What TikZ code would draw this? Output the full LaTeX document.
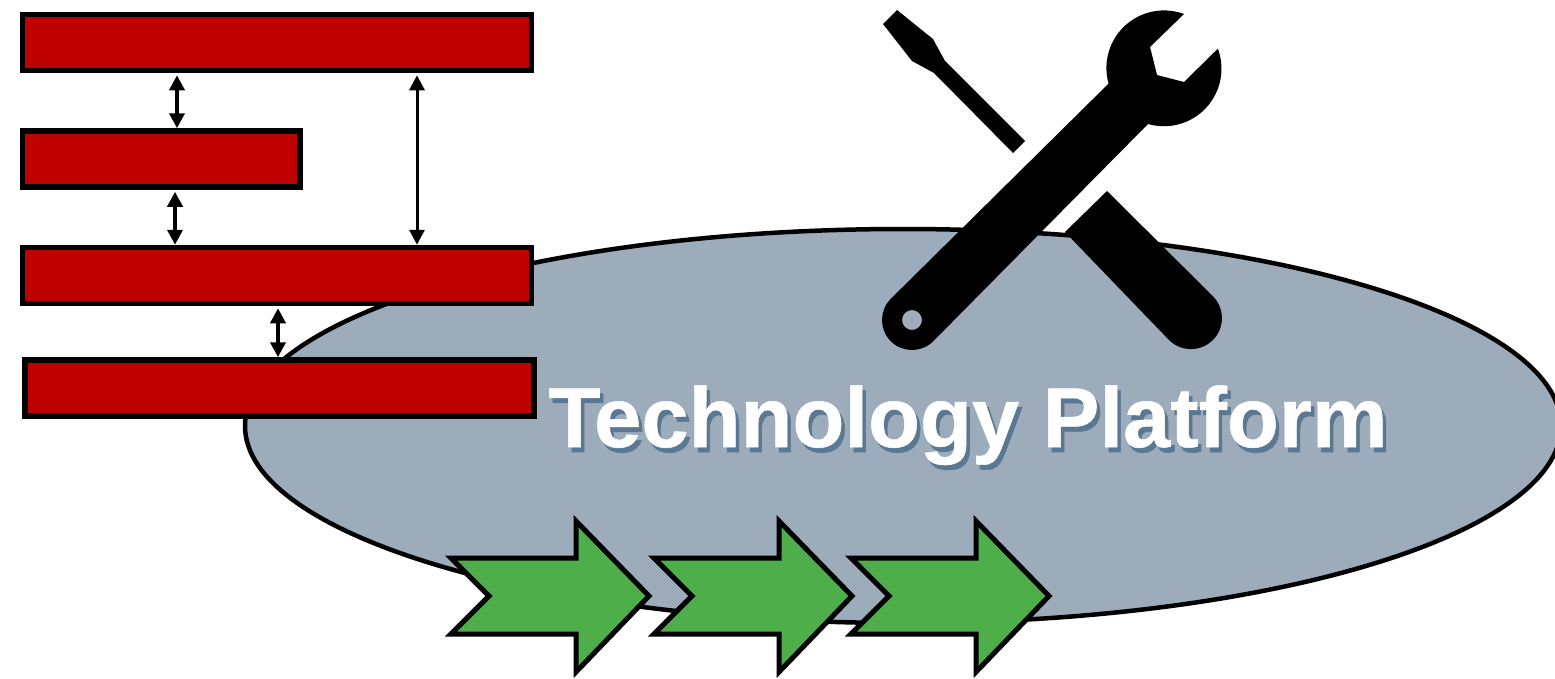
\documentclass[tikz,border=0pt]{standalone}
\usepackage{fontspec}
\setmainfont{Liberation Sans}
\newfontfamily\titlefont[FakeBold=0.6]{Liberation Sans Bold}
\usepackage{xcolor}
\usetikzlibrary{shapes.geometric, arrows.meta, positioning, calc}
\definecolor{boxRed}{HTML}{BE0000}
\definecolor{stepGreen}{HTML}{4EAE4A}
\definecolor{platformGrey}{HTML}{9DACBB}
\definecolor{shadowBlue}{HTML}{2F5578}
% text with a shadow, all in one box
\newcommand{\softshadow}[1]{%
  \leavevmode
  \rlap{\kern3.5pt\raisebox{-5pt}{\textcolor{shadowBlue!60!platformGrey}{#1}}}%
  #1}
\tikzset{
  box/.style={
    rectangle, draw=black, line width=5.5pt,
    fill=boxRed,
    minimum width=#1,
    minimum height=56pt,
    inner sep=0pt
  },
  box/.default=509pt,
  platform/.style={
    ellipse, draw=black, line width=4.5pt,
    fill=platformGrey,
    minimum width=1316pt,
    minimum height=394pt,
    inner sep=0pt
  },
  title/.style={
    anchor=base, inner sep=0pt, text=white,
    font=\fontsize{85}{96}\titlefont
  },
  stepArrow/.style={
    draw=black, line width=5pt, line join=miter,
    fill=stepGreen
  },
  tool/.style={fill=black, draw=none},
  darrow/.style={
    {Triangle[length=15pt, width=15pt]}-{Triangle[length=15pt, width=15pt]},
    line width=4.5pt, shorten <=2pt
  },
  darrowThin/.style={
    darrow, line width=3pt
  }
}

\begin{document}
\begin{tikzpicture}[x=1pt, y=-1pt]
\useasboundingbox (0,0) rectangle (1555,678);

%------------------------------------------------------
% PLATFORM
%------------------------------------------------------

\node[platform] (ellipseP) at (903,426) {};
\node[title] (titleP) at (968,447) {\softshadow{Technology Platform}};

%------------------------------------------------------
% BOXES (top to bottom)
%------------------------------------------------------

\node[box] (boxA) at (277,42.5) {};
\node[box=277.5pt, below=55pt of boxA.south west, anchor=north west] (boxB) {};
\node[box, below=171.5pt of boxA] (boxC) {};
\node[box, below=51pt of boxC, xshift=2.5pt] (boxD) {};

% x positions of the links
\coordinate (linkA) at (177,0);
\coordinate (linkB) at (175,0);
\coordinate (linkC) at (278,0);
\coordinate (linkD) at (417,0);

%------------------------------------------------------
% EDGES
%------------------------------------------------------

\draw[darrow] (linkA |- boxA.south) -- (linkA |- boxB.north);
\draw[darrow] (linkB |- boxB.south) -- (linkB |- boxC.north);
\draw[darrow] (linkC |- boxC.south) -- (linkC |- boxD.north);
\draw[darrowThin] (linkD |- boxA.south) -- (linkD |- boxC.north);

%------------------------------------------------------
% STEP ARROWS
%------------------------------------------------------

\foreach \dx in {0,203,400}{
  \draw[stepArrow, xshift=\dx] (451,558) -- (576,558) -- (576,521) -- (649,596)
    -- (576,672) -- (576,634) -- (451,634) -- (489,596) -- cycle;
}

%------------------------------------------------------
% TOOLS
%------------------------------------------------------

% screwdriver
\fill[tool] (897,10) -- (883,24) -- (912,61) -- (934,73) -- (1013,153)
  -- (1025,141) -- (945,61) -- (933,39) -- cycle;

% lower part of the screwdriver
\fill[tool] (1107,191) -- (1065,232) -- (1169,340)
  arc[start angle=135, end angle=-45, radius=31] -- cycle;

% wrench
\fill[tool, even odd rule] (1184,14)
  arc[start angle=-69.7, end angle=-195.7, radius=57.6]
  -- (890.8,298.8)
  arc[start angle=-135, end angle=-315, radius=30]
  -- (1148,124)
  arc[start angle=106, end angle=-20.3, radius=57.6]
  -- (1184,82) -- (1157,75) -- (1150,47) -- cycle
  (912,320) circle[radius=10];

\end{tikzpicture}
\end{document}
